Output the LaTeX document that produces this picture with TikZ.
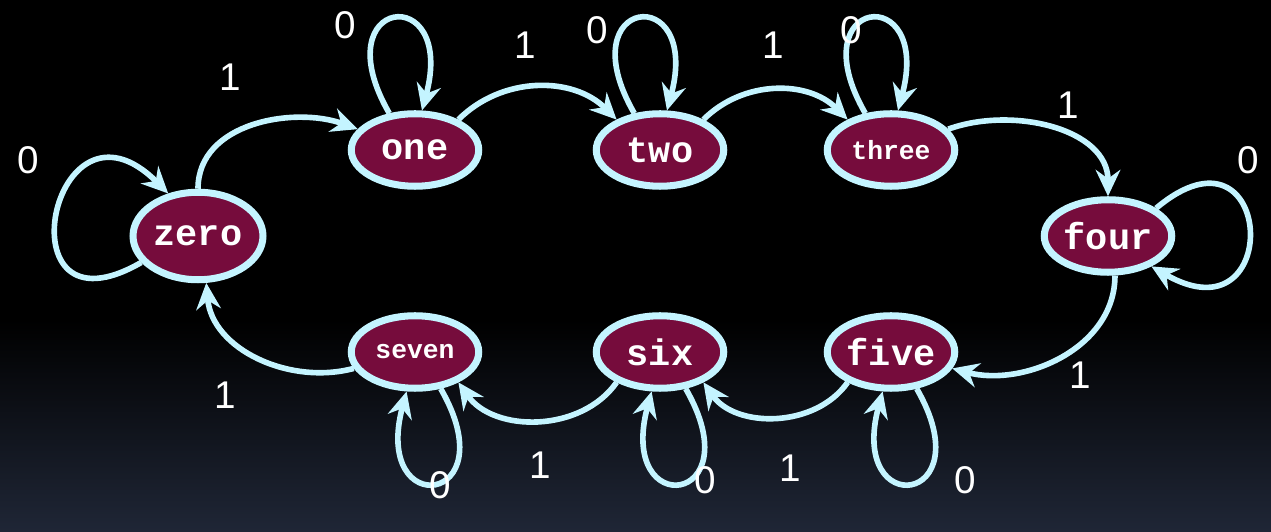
\documentclass[tikz,border=0pt]{standalone}
\usepackage{fontspec}
\setmainfont{Liberation Sans}
\newfontfamily\monob{Liberation Mono}
\usetikzlibrary{arrows.meta,shapes.geometric}
\definecolor{edgec}{HTML}{C4F4FF}
\definecolor{fillc}{HTML}{760C3C}
\definecolor{bgbot}{RGB}{31,38,54}
\begin{document}
\begin{tikzpicture}[x=0.02cm,y=0.02cm,
  st/.style={ellipse,draw=edgec,fill=fillc,line width=4pt,inner sep=0pt,minimum width=2.55cm,minimum height=1.45cm,text=white,font=\monob\bfseries\fontsize{21}{21}\selectfont},
  stsmall/.style={st,font=\monob\bfseries\fontsize{15}{15}\selectfont},
  tr/.style={draw=edgec,line width=3.2pt,-{Stealth[length=15pt,width=14pt,inset=5pt]}},
  lb/.style={text=white,font=\fontsize{22}{22}\selectfont}]
\useasboundingbox (0,0) rectangle (1271,531);
\fill[black] (0,0) rectangle (1271,531);
\shade[top color=black,bottom color=bgbot] (0,0) rectangle (1271,211);
\node[st,minimum width=2.6cm,minimum height=1.75cm] (zero) at (198,295) {zero};
\node[st] (one) at (415,381) {one};
\node[st] (two) at (660,381) {two};
\node[stsmall] (three) at (891,381) {three};
\node[st] (four) at (1108,295) {four};
\node[st] (five) at (891,179) {five};
\node[st] (six) at (660,179) {six};
\node[stsmall] (seven) at (415,179) {seven};
% loops
\draw[tr] (zero.205) to[out=210,in=135,distance=3.3cm] (zero.125);
\draw[tr] (one.125) to[out=120,in=75,distance=2.7cm] (one.80);
\draw[tr] (two.125) to[out=120,in=75,distance=2.7cm] (two.80);
\draw[tr] (three.125) to[out=120,in=75,distance=2.7cm] (three.80);
\draw[tr] (four.30) to[out=40,in=-30,distance=3.1cm] (four.-35);
\draw[tr] (five.-55) to[out=-60,in=-105,distance=2.7cm] (five.-102);
\draw[tr] (six.-55) to[out=-60,in=-105,distance=2.7cm] (six.-102);
\draw[tr] (seven.-55) to[out=-60,in=-105,distance=2.7cm] (seven.-102);
% transitions
\draw[tr] (zero.north) to[out=90,in=160] (one.160);
\draw[tr] (one.35) to[out=45,in=135] (two.145);
\draw[tr] (two.35) to[out=45,in=135] (three.145);
\draw[tr] (three.20) to[out=20,in=90] (four.north);
\draw[tr] (four.-80) to[out=-90,in=-15] (five.-15);
\draw[tr] (five.-145) to[out=-125,in=-55] (six.-35);
\draw[tr] (six.-145) to[out=-125,in=-55] (seven.-35);
\draw[tr] (seven.195) to[out=195,in=-85] (zero.-80);
% labels
\node[lb] (l1) at (28,371) {0};
\node[lb] (l2) at (230,454) {1};
\node[lb] (l3) at (345,506) {0};
\node[lb] (l4) at (525,486) {1};
\node[lb] (l5) at (597,501) {0};
\node[lb] (l6) at (773,486) {1};
\node[lb] (l7) at (851,501) {0};
\node[lb] (l8) at (1068,426) {1};
\node[lb] (l9) at (1248,371) {0};
\node[lb] (l10) at (1080,156) {1};
\node[lb] (l11) at (965,51) {0};
\node[lb] (l12) at (790,63) {1};
\node[lb] (l13) at (705,51) {0};
\node[lb] (l14) at (540,66) {1};
\node[lb] (l15) at (440,46) {0};
\node[lb] (l16) at (225,136) {1};
\end{tikzpicture}
\end{document}
